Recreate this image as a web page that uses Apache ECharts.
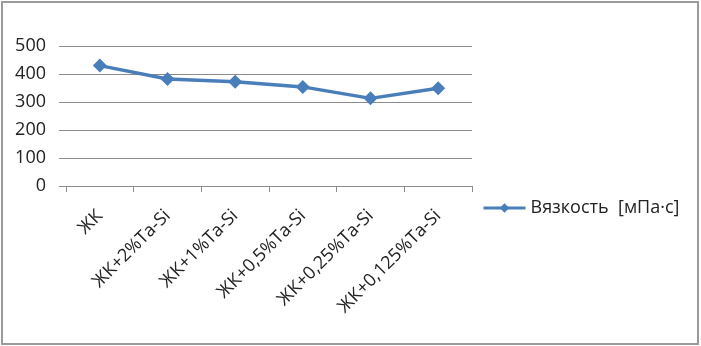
<!DOCTYPE html>
<html>
<head>
<meta charset="utf-8">
<script src="https://cdn.jsdelivr.net/npm/echarts@6/dist/echarts.min.js"></script>
<style>html,body{margin:0;padding:0;background:#fff}#c{width:701px;height:346px}</style>
</head>
<body>
<div id="c"></div>
<script>
var categories = ['ЖК', 'ЖК+2%Ta-Si', 'ЖК+1%Ta-Si', 'ЖК+0,5%Ta-Si', 'ЖК+0,25%Ta-Si', 'ЖК+0,125%Ta-Si'];
var viscosity = [430, 382, 372, 354, 313, 349];
var seriesName = 'Вязкость  [мПа·с]';
var yTicks = [0, 100, 200, 300, 400, 500];

var chart = echarts.init(document.getElementById('c'), null, {renderer: 'canvas'});
var font = '"Open Sans", "DejaVu Sans", sans-serif';
chart.setOption({
  animation: false,
  backgroundColor: '#fff',
  graphic: [{
    type: 'rect', shape: {x: 2, y: 2, width: 696, height: 342},
    style: {fill: 'none', stroke: '#9a9a9a', lineWidth: 2}, silent: true
  }],
  grid: {left: 66, right: 229, top: 46, bottom: 160, containLabel: false},
  legend: {
    left: 477, top: 194, itemWidth: 42, itemHeight: 12, itemGap: 0,
    textStyle: {fontFamily: font, fontSize: 18, color: '#222'},
    lineStyle: {width: 3},
    data: [{name: seriesName}]
  },
  xAxis: {
    type: 'category', data: categories, boundaryGap: true,
    axisLine: {lineStyle: {color: '#8c8c8c', width: 1}},
    axisTick: {show: true, length: 6, lineStyle: {color: '#8c8c8c'}, alignWithLabel: false},
    axisLabel: {rotate: 45, interval: 0, fontFamily: font, fontSize: 18, color: '#222', margin: 27}
  },
  yAxis: {
    type: 'value', min: yTicks[0], max: yTicks[yTicks.length - 1], interval: 100,
    axisLine: {show: false},
    axisTick: {show: true, length: 7, lineStyle: {color: '#8c8c8c'}},
    splitLine: {lineStyle: {color: '#8c8c8c', width: 1}},
    axisLabel: {fontFamily: font, fontSize: 18, color: '#222', margin: 20}
  },
  series: [{
    name: seriesName, type: 'line', data: viscosity,
    symbol: 'diamond', symbolSize: 14,
    lineStyle: {color: '#4a7ebb', width: 3.5},
    itemStyle: {color: '#4a7ebb'}
  }]
});
</script>
</body>
</html>
